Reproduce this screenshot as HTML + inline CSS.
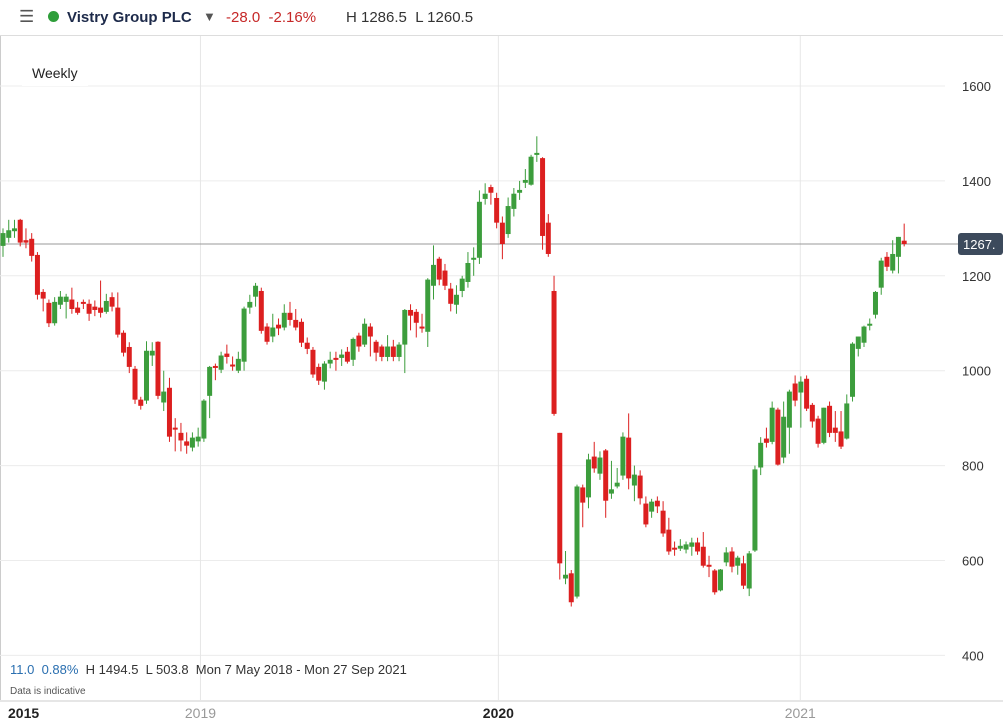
<!DOCTYPE html>
<html><head><meta charset="utf-8">
<style>
body{margin:0;background:#fff;font-family:"Liberation Sans",sans-serif;}
#wrap{position:relative;width:1003px;height:727px;overflow:hidden;}
#hdr{position:absolute;left:0;top:0;width:1003px;height:35px;border-bottom:1px solid #ddd;font-size:15px;color:#222;}
svg{position:absolute;left:0;top:0;}
</style></head><body>
<div id="wrap">
<div id="hdr">
 <span style="position:absolute;left:19px;top:7px;font-size:17px;color:#555;">☰</span>
 <span style="position:absolute;left:48px;top:11px;width:11px;height:11px;border-radius:50%;background:#2e9e3a;"></span>
 <span style="position:absolute;left:67px;top:9px;font-weight:bold;color:#1d2a4a;">Vistry Group PLC</span>
 <span style="position:absolute;left:203px;top:9px;color:#555;font-size:13px;">▼</span>
 <span style="position:absolute;left:226px;top:9px;color:#c62828;">-28.0&nbsp;&nbsp;-2.16%</span>
 <span style="position:absolute;left:346px;top:9px;color:#333;">H 1286.5&nbsp;&nbsp;L 1260.5</span>
</div>
<svg id="chart" width="1003" height="727"></svg>
</div>
<script>
const opens=[1263,1280,1294,1318,1275,1278,1244,1166,1143,1100,1139,1145,1150,1133,1145,1141,1135,1133,1124,1155,1133,1080,1050,1004,939,937,1032,1061,933,964,880,869,851,838,851,857,947,1010,1002,1036,1013,1000,1019,1133,1156,1168,1093,1072,1097,1091,1122,1107,1103,1059,1044,1008,977,1015,1027,1027,1040,1023,1074,1055,1093,1061,1051,1029,1051,1029,1055,1128,1124,1093,1082,1179,1236,1211,1173,1139,1168,1187,1234,1238,1362,1387,1364,1312,1288,1341,1375,1396,1392,1457,1448,1312,1168,869,562,573,524,754,733,819,783,832,741,756,779,859,758,779,720,703,726,705,665,627,625,623,629,638,629,591,579,537,596,619,589,594,541,621,796,857,850,918,817,880,973,954,983,928,899,848,926,880,872,857,945,1046,1059,1095,1118,1175,1240,1211,1240,1274];
const closes=[1290,1296,1300,1270,1270,1242,1160,1152,1100,1145,1156,1156,1130,1122,1141,1120,1128,1122,1147,1135,1076,1038,1008,939,926,1042,1042,947,956,861,878,853,842,859,861,937,1008,1008,1032,1029,1010,1025,1131,1145,1179,1084,1061,1091,1089,1122,1107,1091,1059,1046,992,979,1015,1023,1023,1034,1019,1067,1051,1099,1072,1038,1029,1051,1029,1055,1128,1116,1101,1089,1192,1223,1192,1179,1141,1160,1194,1227,1238,1356,1373,1375,1312,1267,1347,1373,1381,1402,1451,1459,1284,1246,909,594,570,512,756,722,813,794,817,726,750,764,861,773,781,731,676,724,714,657,619,625,631,634,638,619,589,589,533,581,617,587,606,547,615,792,848,848,922,802,903,956,937,977,920,893,846,922,869,869,840,931,1057,1072,1093,1099,1166,1232,1219,1246,1282,1267];
const highs=[1300,1318,1318,1320,1300,1290,1250,1172,1150,1155,1168,1162,1175,1145,1150,1150,1148,1190,1162,1165,1165,1085,1060,1010,945,1062,1060,1062,1000,985,900,890,870,870,880,940,1010,1015,1040,1055,1030,1040,1135,1160,1185,1175,1100,1120,1110,1140,1145,1130,1110,1070,1050,1015,1020,1040,1040,1045,1050,1070,1080,1110,1100,1065,1055,1075,1065,1060,1130,1140,1130,1120,1195,1264,1240,1225,1185,1180,1200,1250,1260,1380,1395,1392,1375,1325,1365,1385,1400,1425,1455,1494,1450,1330,1200,869,620,580,760,760,825,850,830,835,810,795,870,910,800,790,735,730,735,725,690,640,645,640,648,648,660,610,582,582,628,628,610,610,620,800,860,880,935,922,935,960,990,988,990,932,905,922,935,915,915,950,1060,1072,1095,1110,1168,1238,1250,1275,1282,1310];
const lows=[1240,1270,1280,1262,1258,1230,1150,1125,1092,1095,1130,1110,1120,1118,1130,1105,1115,1112,1120,1125,1070,1030,995,930,918,930,1010,940,915,850,830,830,825,830,840,850,900,980,995,1015,1000,995,1000,1120,1135,1078,1055,1060,1075,1085,1095,1085,1050,1035,985,970,960,1005,1000,1010,1015,1010,1040,1050,1030,1020,1020,1020,1020,1020,995,1085,1070,1080,1050,1150,1180,1170,1125,1120,1155,1175,1200,1225,1350,1350,1300,1235,1280,1325,1360,1385,1390,1440,1255,1240,905,560,550,503,520,670,710,785,770,690,730,752,770,750,725,718,670,690,700,650,612,610,620,615,610,612,585,565,528,535,588,575,570,540,525,618,780,838,845,800,805,825,925,880,915,880,838,845,860,850,835,855,935,1030,1050,1085,1110,1160,1210,1205,1205,1262];
const yTicks=[1600,1400,1200,1000,800,600,400];
const xLabels=["2015","2019","2020","2021"];
const xLabelIdx=[0,34.4,86.3,138.9];

const NS="http://www.w3.org/2000/svg";
const svg=document.getElementById('chart');
const y=p=>86+(1600-p)*0.4745;
const x=i=>3+i*5.74;
function mk(tag,attrs,parent){const e=document.createElementNS(NS,tag);for(const k in attrs)e.setAttribute(k,attrs[k]);(parent||svg).appendChild(e);return e;}
let f=mk('line',{x1:0.5,y1:36,x2:0.5,y2:700,stroke:'#ccc'});


let ax=mk('line',{x1:0,y1:701,x2:1003,y2:701,stroke:'#ccc'});


yTicks.forEach(t=>{
 const g=mk('line',{x1:0,y1:y(t),x2:945,y2:y(t),stroke:'#ececec'});
 
 
 const tx=mk('text',{x:962,y:y(t)+5,'font-size':13,fill:'#333'});
 tx.textContent=t;
 
 
});
xLabels.forEach((l,k)=>{
 const xi=k===0?10:x(xLabelIdx[k]);
 if(k>0){const v=mk('line',{x1:xi,y1:36,x2:xi,y2:700,stroke:'#e6e6e6'});
 
 }
 const bold=(l==='2015'||l==='2020');
 const t=mk('text',{x:k===0?8:xi,y:718,'font-size':14,'text-anchor':k===0?'start':'middle',fill:bold?'#222':'#999','font-weight':bold?'bold':'normal'});
 t.textContent=l;
 
 
});
const last=closes[closes.length-1];
const pl=mk('line',{x1:0,y1:y(last),x2:958,y2:y(last),stroke:'#999','stroke-width':1});


const pb=mk('rect',{x:958,y:y(last)-11,width:45,height:22,rx:3,fill:'#3c4a5c'});


const pt=mk('text',{x:963,y:y(last)+5,'font-size':13,fill:'#fff'});
pt.textContent=last+'.';


for(let i=0;i<opens.length;i++){
 const o=opens[i],c=closes[i],up=c>=o,col=up?'#3c9d3c':'#dc1f1f';
 const cx=x(i);
 const w=mk('line',{x1:cx,y1:y(highs[i]),x2:cx,y2:y(lows[i]),stroke:col,'stroke-width':1});
 
 
 const top=y(Math.max(o,c)),h=Math.max(2,Math.abs(y(o)-y(c)));
 const b=mk('rect',{x:cx-2.5,y:top,width:5,height:h,fill:col});
 
 
}
</script>
<div style="position:absolute;left:22px;top:60px;padding:5px 10px;background:#fff;font-size:14px;color:#222;">Weekly</div>
<div style="position:absolute;left:10px;top:662px;font-size:13px;color:#333;white-space:pre;"><span style="color:#2a6fb0">11.0</span>  <span style="color:#2a6fb0">0.88%</span>  H 1494.5  L 503.8  Mon 7 May 2018 - Mon 27 Sep 2021</div>
<div style="position:absolute;left:10px;top:686px;font-size:10px;color:#555;">Data is indicative</div>
</body></html>
